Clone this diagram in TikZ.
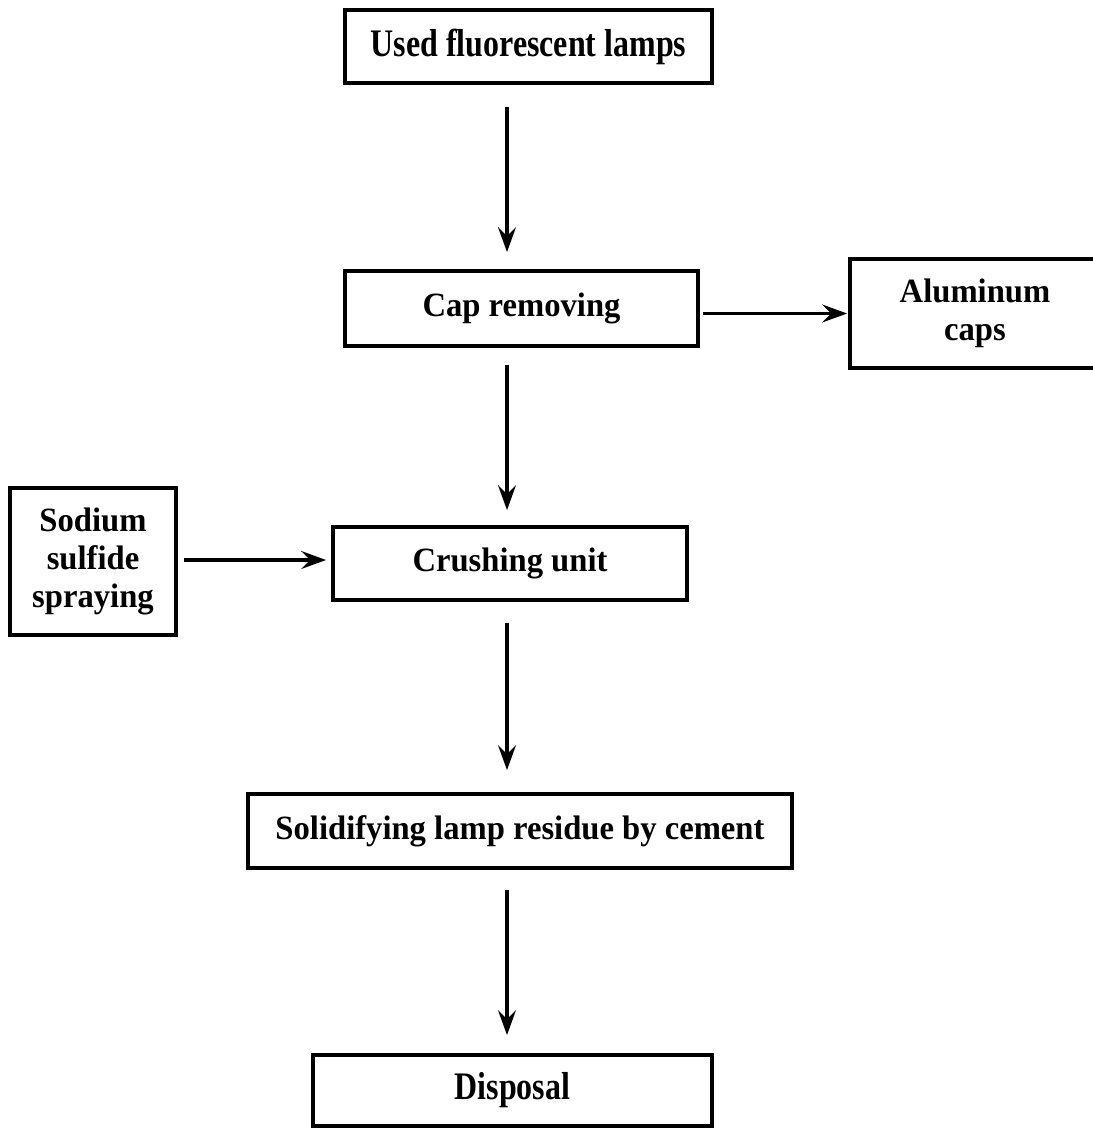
\documentclass[tikz,border=0pt]{standalone}
\usepackage{fontspec}
\setmainfont{Liberation Serif}[FakeStretch=0.96]
\newfontfamily\tallfont{Liberation Serif}[FakeStretch=0.82]
\usetikzlibrary{arrows.meta}

\begin{document}
\begin{tikzpicture}[x=1pt,y=-1pt,
      box/.style={draw,line width=3.8pt,align=center,inner sep=0pt,
         font=\fontsize{34}{38}\selectfont\bfseries},
      tall/.style={font=\tallfont\fontsize{39}{42}\selectfont\bfseries},
      flow/.style={-{Stealth[length=25pt,width=18pt,inset=9pt]},line width=3.2pt}]
   \useasboundingbox (0,0) rectangle (1092,1129);

   \node[box,tall,minimum width=367pt,minimum height=73pt] (used) at (528.5,46.5) {Used fluorescent lamps};
   \node[box,minimum width=353pt,minimum height=75pt] (cap) at (521.5,308.5) {Cap removing};
   \node[box,minimum width=250pt,minimum height=109pt] (alu) at (975,313.5) {Aluminum\\caps};
   \node[box,minimum width=166pt,minimum height=147pt] (sodium) at (93,561.5) {Sodium\\sulfide\\spraying};
   \node[box,minimum width=354pt,minimum height=73pt] (crush) at (510,563.5) {Crushing unit};
   \node[box,minimum width=544pt,minimum height=74pt] (solid) at (520,831) {Solidifying lamp residue by cement};
   \node[box,tall,minimum width=399pt,minimum height=71pt] (disposal) at (512.5,1090.5) {Disposal};

   % main line of the process
   \coordinate (spine) at (507,0);
   \draw[flow,shorten <=22pt,shorten >=17pt] (used.south -| spine) -- (cap.north -| spine);
   \draw[flow,shorten <=17pt,shorten >=15pt] (cap.south -| spine) -- (crush.north -| spine);
   \draw[flow,shorten <=21pt,shorten >=22pt] (crush.south -| spine) -- (solid.north -| spine);
   \draw[flow,shorten <=20pt,shorten >=18pt] (solid.south -| spine) -- (disposal.north -| spine);

   % side streams
   \draw[flow,shorten <=3pt,shorten >=1pt] (cap.east |- alu) -- (alu.west);
   \draw[flow,shorten <=6pt,shorten >=5pt] (sodium.east |- 0,560) -- (crush.west |- 0,560);
\end{tikzpicture}
\end{document}
